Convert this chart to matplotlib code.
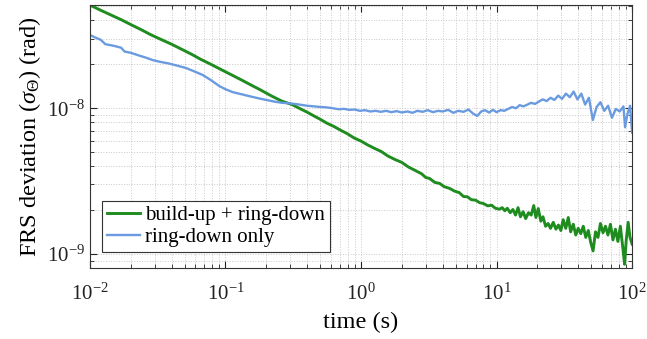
import matplotlib
matplotlib.use("Agg")
import matplotlib.pyplot as plt
import numpy as np

plt.rcParams['font.family'] = ['Liberation Serif', 'DejaVu Serif']
plt.rcParams['mathtext.fontset'] = 'custom'
plt.rcParams['mathtext.rm'] = 'Liberation Serif'
plt.rcParams['mathtext.it'] = 'Liberation Serif:italic'

# build-up + ring-down (time in s, deviation in units of 1e-9 rad)
t_green = [0.010, 0.012, 0.014, 0.017, 0.020, 0.024, 0.028, 0.033, 0.040, 0.047,
           0.056, 0.066, 0.079, 0.093, 0.11, 0.13, 0.155, 0.18, 0.22, 0.26,
           0.31, 0.35, 0.40, 0.45, 0.50, 0.56, 0.63, 0.71, 0.79, 0.89,
           1.0, 1.12, 1.26, 1.41, 1.58, 1.78, 2.0, 2.24, 2.5, 2.8,
           3.0, 3.2, 3.5, 3.8, 4.1, 4.5, 4.9, 5.3, 5.7, 6.1,
           6.5, 7.0, 7.5, 8.0, 8.6, 9.2, 9.8, 10.5, 11.0, 11.5,
           12.0, 12.6, 13.2, 13.8, 14.4, 15.0, 15.7, 16.4, 17.2, 18.0,
           18.8, 19.5, 20.3, 21.2, 22.0, 23.0, 24.0, 25.0, 26.2, 27.4,
           28.6, 29.8, 31.0, 32.4, 33.8, 35.2, 36.8, 38.4, 40.0, 41.8,
           43.6, 45.5, 47.5, 49.5, 51.5, 53.7, 56.0, 58.4, 61.0, 63.6,
           66.3, 69.2, 72.2, 75.3, 78.5, 81.9, 85.4, 88.0, 90.5, 93.5,
           96.5, 100.0]
s_green = [51, 47, 44, 40.5, 37.5, 34.5, 32, 29.8, 27.5, 25.5,
           23.5, 21.6, 19.9, 18.4, 17.0, 15.7, 14.4, 13.4, 12.1, 11.2,
           10.6, 10.0, 9.4, 8.85, 8.4, 7.9, 7.5, 7.05, 6.7, 6.25,
           5.95, 5.6, 5.3, 5.05, 4.7, 4.45, 4.25, 3.95, 3.75, 3.55,
           3.35, 3.3, 3.1, 3.05, 2.9, 2.82, 2.7, 2.64, 2.48, 2.47,
           2.36, 2.34, 2.25, 2.22, 2.14, 2.16, 2.06, 2.03, 2.08, 1.98,
           2.06, 1.92, 2.02, 1.85, 2.08, 1.80, 1.95, 1.75, 1.92, 1.85,
           2.15, 1.78, 2.05, 1.68, 1.80, 1.55, 1.62, 1.50, 1.65, 1.48,
           1.58, 1.45, 1.72, 1.50, 1.78, 1.42, 1.60, 1.35, 1.50, 1.38,
           1.55, 1.30, 1.45, 1.20, 1.05, 1.42, 1.30, 1.62, 1.40, 1.55,
           1.35, 1.60, 1.25, 1.48, 1.22, 1.55, 1.10, 0.85, 1.25, 1.65,
           1.30, 1.17]

# ring-down only
t_blue = [0.010, 0.011, 0.012, 0.013, 0.015, 0.017, 0.018, 0.020, 0.023, 0.026,
          0.029, 0.033, 0.038, 0.044, 0.051, 0.058, 0.068, 0.078, 0.090, 0.10,
          0.113, 0.13, 0.15, 0.175, 0.20, 0.23, 0.26, 0.30, 0.35, 0.40,
          0.45, 0.50, 0.55, 0.62, 0.68, 0.75, 0.82, 0.90, 0.98, 1.07,
          1.17, 1.28, 1.40, 1.53, 1.67, 1.83, 2.0, 2.2, 2.4, 2.6,
          2.85, 3.1, 3.4, 3.7, 4.0, 4.4, 4.8, 5.2, 5.7, 6.2,
          6.7, 7.2, 7.7, 8.2, 8.8, 9.4, 10.0, 10.7, 11.4, 12.2,
          13.0, 13.9, 14.8, 15.8, 16.9, 18.0, 19.2, 20.5, 21.9, 23.4,
          25.0, 26.7, 28.5, 30.4, 32.5, 34.7, 37.0, 39.5, 42.2, 45.0,
          48.0, 51.3, 54.7, 58.4, 62.3, 66.5, 71.0, 75.8, 80.9, 86.3,
          88.7, 92.0, 96.6, 100.0]
s_blue = [31.8, 30.5, 29.5, 27.5, 26.8, 26.0, 24.5, 24.0, 23.0, 22.2,
          21.4, 20.8, 20.3, 19.6, 18.9, 18.0, 16.9, 15.6, 14.2, 13.5,
          12.9, 12.5, 12.1, 11.7, 11.4, 11.1, 10.9, 10.8, 10.6, 10.4,
          10.3, 10.2, 10.15, 10.0, 9.85, 9.9, 9.75, 9.8, 9.6, 9.7,
          9.5, 9.6, 9.45, 9.6, 9.4, 9.55, 9.35, 9.5, 9.3, 9.6,
          9.45, 9.7, 9.4, 9.6, 9.5, 9.75, 9.3, 9.6, 9.45, 9.8,
          9.2, 8.85, 9.5, 9.7, 9.35, 9.75, 9.4, 9.7, 9.6, 9.9,
          10.2, 10.0, 10.5, 10.3, 10.6, 10.9, 10.7, 11.1, 11.5, 11.2,
          11.8, 11.4, 12.2, 11.6, 12.6, 11.9, 13.0, 11.5, 12.6, 10.6,
          11.8, 8.3, 10.2, 11.0, 9.6, 10.4, 8.6, 9.9, 9.5, 10.3,
          7.4, 9.0, 10.4, 6.8]

green = '#1f8c1f'
blue = '#6a9be0'

fig = plt.figure(figsize=(6.47, 3.39), dpi=100)
ax = fig.add_axes([0.139, 0.209, 0.838, 0.776])

ax.plot(t_green, np.array(s_green) * 1e-9, color=green, lw=2.1, label='build-up + ring-down')
ax.plot(t_blue, np.array(s_blue) * 1e-9, color=blue, lw=1.7, label='ring-down only')

ax.set_xscale('log')
ax.set_yscale('log')
ax.set_xlim(1e-2, 1e2)
ax.set_ylim(8e-10, 5.1e-8)

ax.grid(True, which='both', linestyle=':', color='#c8c8c8', lw=0.7)
ax.tick_params(which='both', direction='in', top=True, right=True, labelsize=15, colors='#222222')
ax.tick_params(which='major', length=5)
ax.tick_params(which='minor', length=3)
ax.tick_params(axis='x', which='major', pad=11)
ax.xaxis.set_minor_formatter(matplotlib.ticker.NullFormatter())
ax.yaxis.set_minor_formatter(matplotlib.ticker.NullFormatter())
for sp in ax.spines.values():
    sp.set_color('#333333')
    sp.set_linewidth(0.8)

ax.set_xlabel('time (s)', fontsize=17.5, labelpad=5)
ax.set_ylabel(r'FRS deviation ($\sigma_{\Theta}$) (rad)', fontsize=17.5, labelpad=3)

leg = ax.legend(loc='lower left', bbox_to_anchor=(0.022, 0.06), fontsize=15, handlelength=1.6,
                handletextpad=0.2, borderpad=0.25, labelspacing=0.1, fancybox=False,
                framealpha=1, edgecolor='#333333', borderaxespad=0)
leg.get_frame().set_linewidth(0.8)

fig.savefig('out.png', dpi=100)
